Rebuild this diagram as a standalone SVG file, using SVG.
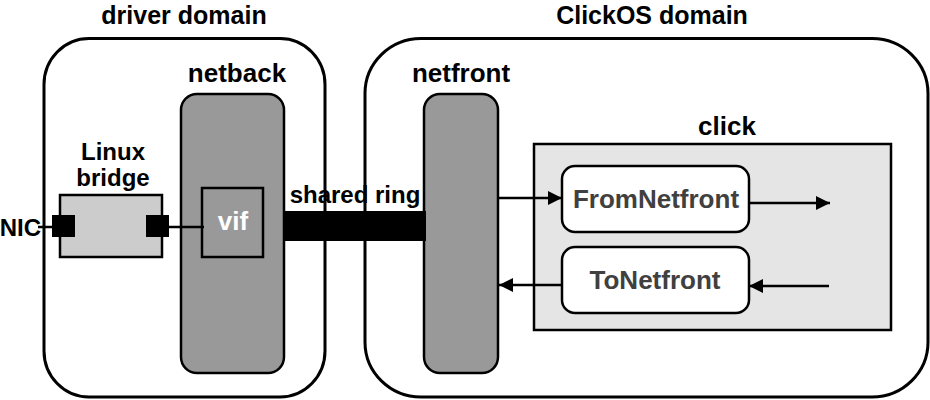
<svg xmlns="http://www.w3.org/2000/svg" width="930" height="400" viewBox="0 0 930 400">
<defs>
<style>
text{font-family:"Liberation Sans",Arial,sans-serif;font-weight:bold;}
.lbl{font-size:26px;fill:#000;text-anchor:middle;}
.ttl{font-size:25px;fill:#000;text-anchor:middle;}
.sm{font-size:24px;fill:#000;text-anchor:middle;}
.elt{font-size:26px;fill:#404040;text-anchor:middle;}
.dom{fill:#fff;stroke:#000;stroke-width:3;}
.drv{fill:#999;stroke:#000;stroke-width:2.5;}
.conn{stroke:#000;stroke-width:2.5;fill:none;}
</style>
<marker id="ah" viewBox="0 0 14 14" refX="14" refY="7" markerWidth="14" markerHeight="14" markerUnits="userSpaceOnUse" orient="auto">
<path d="M0,0 L14,7 L0,14 Z" fill="#000"/>
</marker>
</defs>
<rect width="930" height="400" fill="#fff"/>
<g id="driver-domain">
<rect class="dom" x="44" y="38.5" width="281" height="358.5" rx="45" ry="46"/>
<text class="ttl" x="184" y="24">driver domain</text>
</g>
<g id="clickos-domain">
<rect class="dom" x="365" y="38.5" width="563" height="358.5" rx="56" ry="55"/>
<text class="ttl" x="652" y="24">ClickOS domain</text>
</g>
<g id="netback">
<rect class="drv" x="181" y="94" width="103" height="279" rx="16"/>
<text class="lbl" x="237" y="82">netback</text>
</g>
<g id="vif">
<rect x="202" y="188" width="61" height="69" fill="#999" stroke="#000" stroke-width="2.5"/>
<text class="lbl" x="233" y="230" style="fill:#fff">vif</text>
</g>
<g id="linux-bridge">
<rect x="60" y="195" width="102" height="62" fill="#ccc" stroke="#000" stroke-width="2.5"/>
<rect x="52" y="215" width="23" height="22" fill="#000"/>
<rect x="146" y="215" width="23" height="22" fill="#000"/>
<text class="sm" x="113" y="160">Linux</text>
<text class="sm" x="113" y="186">bridge</text>
</g>
<g id="nic">
<text class="sm" x="41" y="236" style="text-anchor:end">NIC</text>
</g>
<g id="netfront">
<rect class="drv" x="424" y="94" width="74" height="279" rx="16"/>
<text class="lbl" x="461" y="82">netfront</text>
</g>
<g id="click">
<rect x="534" y="144" width="357" height="186" fill="#e5e5e5" stroke="#000" stroke-width="2.5"/>
<text class="lbl" x="727" y="135">click</text>
</g>
<g id="fromnetfront">
<rect x="562" y="166" width="187" height="66" rx="13" fill="#fff" stroke="#000" stroke-width="2.5"/>
<text class="elt" x="656" y="208">FromNetfront</text>
</g>
<g id="tonetfront">
<rect x="562" y="247" width="187" height="66" rx="13" fill="#fff" stroke="#000" stroke-width="2.5"/>
<text class="elt" x="655" y="289">ToNetfront</text>
</g>
<g id="connectors">
<line class="conn" x1="38" y1="227" x2="52" y2="227"/>
<line class="conn" x1="169" y1="227" x2="204" y2="227"/>
<rect id="shared-ring" x="285" y="211" width="141" height="30" fill="#000"/>
<text class="sm" x="355" y="203">shared ring</text>
<line class="conn" x1="498" y1="198" x2="562" y2="198" marker-end="url(#ah)"/>
<line class="conn" x1="749" y1="203" x2="830" y2="203" marker-end="url(#ah)"/>
<line class="conn" x1="829" y1="286" x2="749" y2="286" marker-end="url(#ah)"/>
<line class="conn" x1="562" y1="285" x2="499" y2="285" marker-end="url(#ah)"/>
</g>
</svg>
